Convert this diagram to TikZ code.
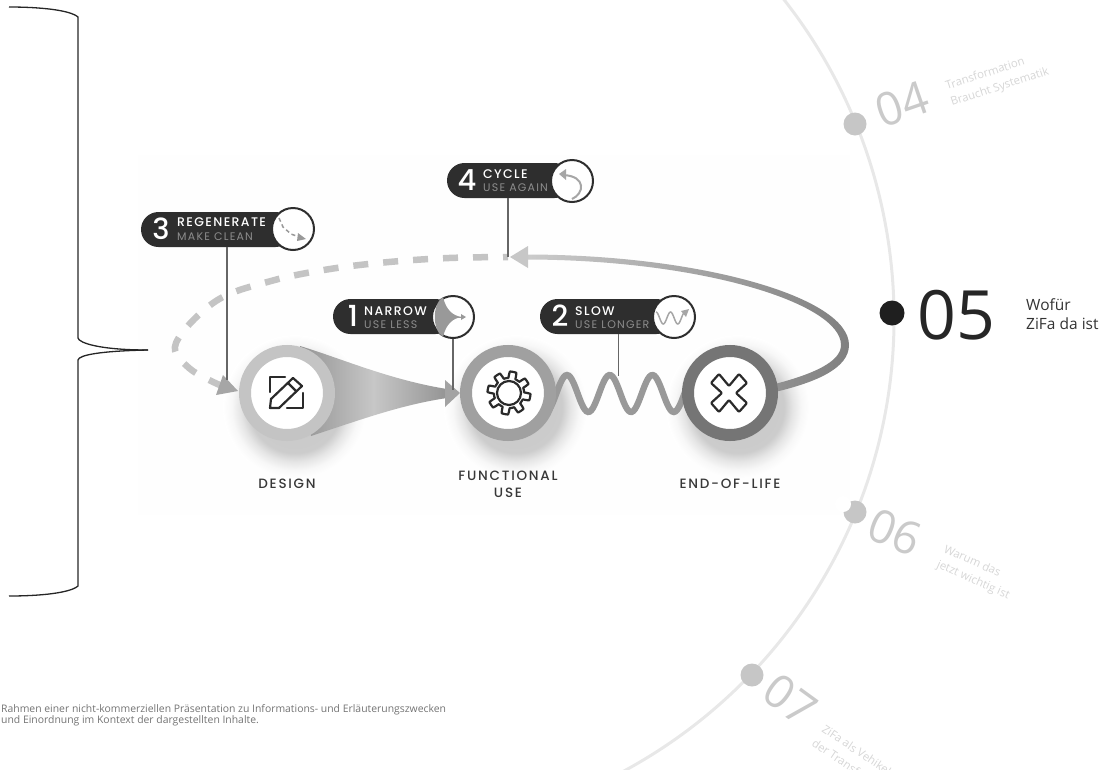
\documentclass[tikz,border=0pt]{standalone}
\usepackage{fontspec}
\setmainfont{Open Sans}
\newfontfamily\pillfont[LetterSpace=11,UprightFont=* Medium]{Poppins}
\newfontfamily\subfont[LetterSpace=11]{Poppins}
\newfontfamily\numfont[UprightFont=* Medium]{Poppins}
\newfontfamily\stagefont[LetterSpace=13,UprightFont=* Medium]{Poppins}
\definecolor{pilldark}{HTML}{2E2E2E}
\definecolor{arcgray}{HTML}{E8E8E8}
\definecolor{dotgray}{HTML}{C6C6C6}
\definecolor{numgray}{HTML}{CACACA}
\definecolor{notegray}{HTML}{D6D6D6}
\definecolor{ringdesign}{HTML}{C4C4C4}
\definecolor{ringuse}{HTML}{A0A0A0}
\definecolor{ringend}{HTML}{757575}
\definecolor{icondark}{HTML}{2A2A2A}
\definecolor{framegray}{HTML}{FEFEFE}
\pgfdeclareradialshading{ringshadow}{\pgfpoint{0bp}{0bp}}{color(0bp)=(black!22); color(16bp)=(black!20); color(19bp)=(black!10); color(22bp)=(black!3); color(25bp)=(white); color(50bp)=(white)}
\tikzset{
  ring/.style={circle,draw,line width=12pt,fill=white,minimum size=84pt,inner sep=0pt},
  pill/.style={fill=pilldark,minimum height=35pt,inner sep=0pt,rounded corners=17.5pt},
  badge/.style={circle,draw=pilldark,line width=2pt,fill=white,minimum size=42pt,inner sep=0pt},
  leader/.style={draw=black!60,line width=1.2pt},
  icon/.style={draw=icondark,line width=2.2pt,line join=round,line cap=round},
  stage/.style={font=\stagefont\fontsize{13.5}{17}\selectfont,text=black!78,align=center},
  pillnum/.style={font=\numfont\fontsize{29}{29}\selectfont,text=white},
  pillhead/.style={anchor=base west,inner sep=0pt,font=\pillfont\fontsize{12.5}{12}\selectfont,text=white},
  pillsub/.style={anchor=base west,inner sep=0pt,font=\subfont\fontsize{11}{12}\selectfont,text=black!45},
  dot/.style={circle,fill=dotgray,minimum size=23pt,inner sep=0pt},
  stepnum/.style={font=\fontsize{46}{46}\selectfont,text=numgray},
  stepnote/.style={anchor=base west,inner sep=0pt,font=\fontsize{11.4}{12}\selectfont,text=notegray},
  fivenote/.style={anchor=base west,inner sep=0pt,font=\fontsize{15.5}{15}\selectfont,text=black!80},
  footnote/.style={anchor=base west,inner sep=0pt,font=\fontsize{10.4}{12}\selectfont,text=black!55}
}
\begin{document}
\begin{tikzpicture}[x=1pt,y=-1pt]
  \useasboundingbox (0,0) rectangle (1106,769);
  \clip (0,0) rectangle (1106,769);
  % faint photo frame
  \fill[framegray] (138,155) rectangle (850,515);
  % timeline arc
  \draw[arcgray,line width=3pt] (379,318) ++(-55:515) arc[start angle=-55,end angle=65,radius=515];
  \node[dot] (dotfour) at (855,124) {};
  \node[dot] (dotsix) at (855,512) {};
  \fill[white] (843,504) circle (8);
  \node[dot] (dotseven) at (752,675) {};
  \node[circle,fill=black!88,minimum size=25pt,inner sep=0pt] (dotfive) at (892,313) {};
  \node[stepnum,rotate=19] (numfour) at (902,104) {04};
  \node[stepnote,rotate=18] (notefoura) at (947,90) {Transformation};
  \node[stepnote,rotate=18] (notefourb) at (952,106) {Braucht Systematik};
  \node[font=\fontsize{68}{68}\selectfont,text=black!85] (numfive) at (956,315) {05};
  \node[fivenote] (notefivea) at (1026,310) {Wofür};
  \node[fivenote] (notefiveb) at (1026,329) {ZiFa da ist};
  \node[stepnum,rotate=-22] (numsix) at (895,532) {06};
  \node[stepnote,rotate=-24] (notesixa) at (943,552) {Warum das};
  \node[stepnote,rotate=-24] (notesixb) at (936,567) {jetzt wichtig ist};
  \node[stepnum,rotate=-36] (numseven) at (790,700) {07};
  \node[stepnote,rotate=-34] (notesevena) at (821,731) {ZiFa als Vehikel};
  \node[stepnote,rotate=-34] (notesevenb) at (811,745) {der Transformation};
  % brace
  \draw[black!85,line width=1.3pt] (9,7) .. controls (40,7) and (70,10) .. (78,17) -- (78,338) .. controls (79,343) and (100,350) .. (148,350);
  \draw[black!85,line width=1.3pt] (148,350) .. controls (100,351) and (79,355) .. (78,360) -- (78,586) .. controls (70,593) and (40,596) .. (9,596);
  % footer
  \node[footnote] (footera) at (1,712) {Rahmen einer nicht-kommerziellen Präsentation zu Informations- und Erläuterungszwecken};
  \node[footnote] (footerb) at (1,723) {und Einordnung im Kontext der dargestellten Inhalte.};
  % soft shadows
  \shade[shading=ringshadow] (295,407) circle (72);
  \shade[shading=ringshadow] (516,407) circle (72);
  \shade[shading=ringshadow] (738,407) circle (72);
  % regenerate, dashed
  \draw[ringdesign,line width=6.5pt,dash pattern=on 15pt off 15pt,dash phase=10pt] plot[smooth,tension=0.6] coordinates {(508,257) (449,258) (389,262) (330,269) (271,281) (216,301) (176,343) (189,368) (222,386)};
  \fill[black!35] (238,391) -- (223,375) -- (216,395) -- cycle;
  % narrow cone
  \shade[left color=black!42,right color=black!42,middle color=black!22] (300,346) .. controls (340,358) and (390,380) .. (447,389) -- (447,398) .. controls (400,405) and (360,420) .. (311,436) -- cycle;
  \fill[black!36] (460,393) -- (445,380) -- (445,407) -- cycle;
  % slow wave
  \draw[black!40,line width=6.3pt,domain=546:690,smooth,samples=90,variable=\x] plot (\x,{393.5-18.5*cos((\x-567)*8.43)});
  % cycle return
  \shade[left color=black!20,right color=black!50] (775,392) .. controls (817,382) and (849,368) .. (849,345) .. controls (849,297) and (700,254.5) .. (525,254.5) -- (525,259.5) .. controls (700,259.5) and (841,303) .. (841,345) .. controls (841,362) and (813,374) .. (775,384) -- cycle;
  \fill[black!22] (510,257) -- (528,246) -- (528,268) -- cycle;
  % stages
  \node[ring,draw=ringdesign] (design) at (287,393) {};
  \node[ring,draw=ringuse] (functional) at (508,393) {};
  \node[ring,draw=ringend] (endlife) at (730,393) {};
  \node[stage] (designlabel) at (287,484) {DESIGN};
  \node[stage] (functionallabel) at (508,484) {FUNCTIONAL\\USE};
  \node[stage] (endlifelabel) at (730,484) {END-OF-LIFE};
  % icons
  \draw[icon] (285,377) -- (270,377) -- (270,392);
  \draw[icon] (303,393) -- (303,408) -- (287,408);
  \draw[icon] (270,408) -- (271,399) -- (293,378) -- (302,386) -- (279,408) -- cycle;
  \draw[icon] (288,383) -- (296,391);
  \draw[icon] (509,393) circle (12);
  \draw[icon,domain=0:360,smooth,samples=145,variable=\x] plot ({509+(18.3+3.2*max(min(3*sin(8*\x),1),-1))*cos(\x)},{393+(18.3+3.2*max(min(3*sin(8*\x),1),-1))*sin(\x)}) -- cycle;
  \draw[icon,rounded corners=1pt] (729,386) -- (719,374) -- (711,383) -- (722,393) -- (711,403) -- (719,412) -- (729,400) -- (739,412) -- (747,403) -- (736,393) -- (747,383) -- (739,374) -- cycle;
  % pills
  \node[pill,minimum width=152pt] (regenpill) at (217,229.5) {};
  \node[pill,minimum width=120pt] (narrowpill) at (393,316.5) {};
  \node[pill,minimum width=134pt] (slowpill) at (607,316.5) {};
  \node[pill,minimum width=125pt] (cyclepill) at (509.5,180.5) {};
  \node[badge] (regenbadge) at (293,229) {};
  \node[badge] (narrowbadge) at (453,317) {};
  \node[badge] (slowbadge) at (674,317) {};
  \node[badge] (cyclebadge) at (572,181) {};
  % leaders
  \coordinate (regentip) at (227,380);
  \coordinate (narrowtip) at (453,390);
  \coordinate (slowtip) at (618.5,376);
  \coordinate (cycletip) at (508,257);
  \draw[leader] (regenpill.south -| regentip) -- (regentip);
  \draw[leader] (narrowbadge.south) -- (narrowtip);
  \draw[leader] (slowpill.south -| slowtip) -- (slowtip);
  \draw[leader] (cyclepill.south -| cycletip) -- (cycletip);
  % pill texts
  \node[pillnum] (regennum) at (161,229) {3};
  \node[pillhead] (regenhead) at (177,226.5) {REGENERATE};
  \node[pillsub] (regensub) at (177,240.5) {MAKE CLEAN};
  \node[pillnum] (narrownum) at (353,316) {1};
  \node[pillhead] (narrowhead) at (364,315) {NARROW};
  \node[pillsub] (narrowsub) at (364,328) {USE LESS};
  \node[pillnum] (slownum) at (560,316) {2};
  \node[pillhead] (slowhead) at (575,315) {SLOW};
  \node[pillsub] (slowsub) at (575,328) {USE LONGER};
  \node[pillnum] (cyclenum) at (467,180) {4};
  \node[pillhead] (cyclehead) at (483,178) {CYCLE};
  \node[pillsub] (cyclesub) at (483,191) {USE AGAIN};
  % badge marks
  \draw[black!40,line width=1.5pt,dash pattern=on 4pt off 3pt] (279,218) -- (283,227) -- (291,234) -- (302,238);
  \fill[black!40] (306,239) -- (298,233) -- (297,241) -- cycle;
  \fill[black!40] (443,297) .. controls (446,310) and (453,316) .. (462,317) .. controls (453,318) and (446,324) .. (443,337) .. controls (432,330) and (432,304) .. (443,297) -- cycle;
  \draw[black!40,line width=1pt] (458,317) -- (464,317);
  \fill[black!40] (466,317) -- (461,314) -- (461,320) -- cycle;
  \draw[black!35,line width=1.5pt,domain=656:684,smooth,samples=40,variable=\x] plot (\x,{318-6*cos((\x-656)*24.8)});
  \fill[black!35] (689,309) -- (681,311) -- (686,317) -- cycle;
  \draw[black!35,line width=2pt] (572,199) .. controls (584,194) and (587,176) .. (563,175);
  \fill[black!35] (559,174) -- (566,169) -- (566,180) -- cycle;
\end{tikzpicture}
\end{document}
